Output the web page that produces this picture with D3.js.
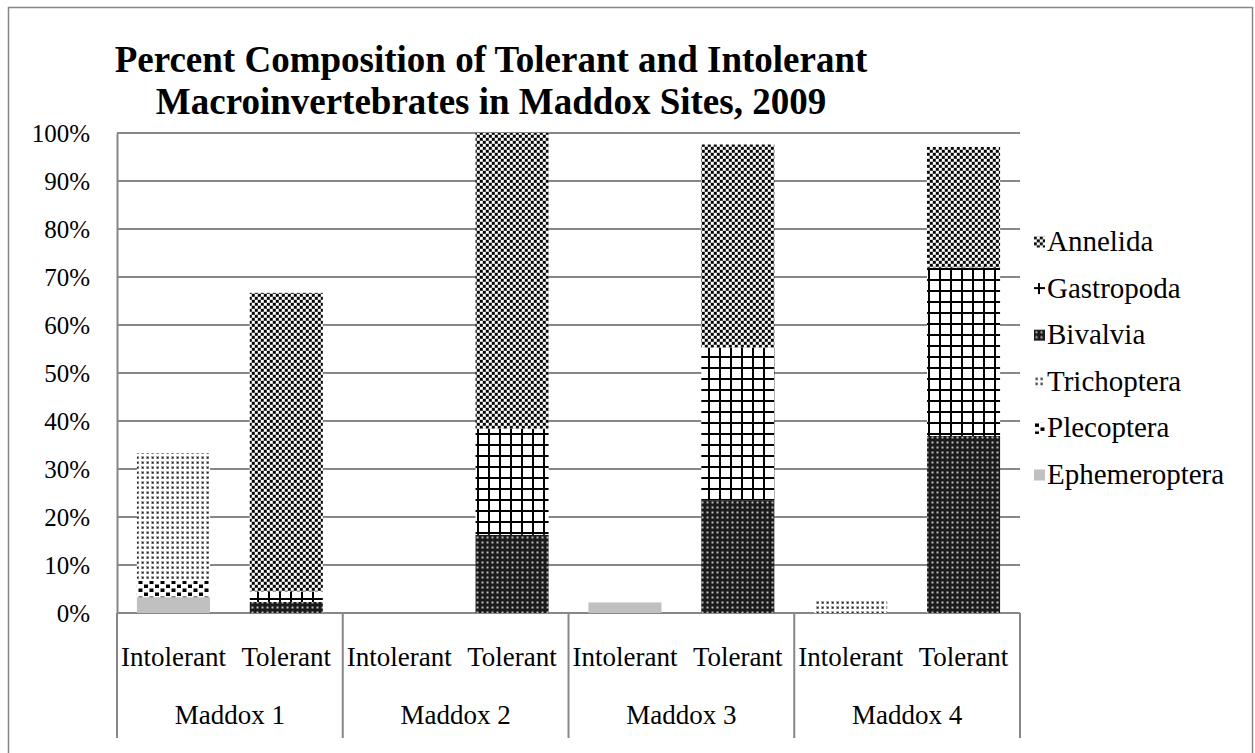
<!DOCTYPE html>
<html>
<head>
<meta charset="utf-8">
<script src="https://cdn.jsdelivr.net/npm/d3@7"></script>
<style>
  html, body { margin: 0; padding: 0; background: #fff; }
  svg text { font-family: "Liberation Serif", "Times New Roman", serif; fill: #000; }
</style>
</head>
<body>
<svg id="chart" width="1255" height="753"></svg>
<script>
(function (d3) {
  'use strict';

  var sites = ['Maddox 1', 'Maddox 2', 'Maddox 3', 'Maddox 4'];
  var groups = ['Intolerant', 'Tolerant'];
  var taxa = ['Ephemeroptera', 'Plecoptera', 'Trichoptera', 'Bivalvia', 'Gastropoda', 'Annelida'];
  // values per site: [Intolerant, Tolerant], in percent
  var ephemeroptera = [3.3, 0, 0, 0, 2.2, 0, 0, 0];
  var plecoptera = [3.4, 0, 0, 0, 0, 0, 0, 0];
  var trichoptera = [26.6, 0, 0, 0, 0, 0, 2.9, 0];
  var bivalvia = [0, 2.3, 0, 16.3, 0, 23.5, 0, 36.9];
  var gastropoda = [0, 2.2, 0, 22.1, 0, 31.8, 0, 35.1];
  var annelida = [0, 62.2, 0, 61.6, 0, 42.3, 0, 25.1];
  var yTicks = [0, 10, 20, 30, 40, 50, 60, 70, 80, 90, 100];

  var series = {
    Ephemeroptera: ephemeroptera,
    Plecoptera: plecoptera,
    Trichoptera: trichoptera,
    Bivalvia: bivalvia,
    Gastropoda: gastropoda,
    Annelida: annelida
  };

  var rows = [];
  sites.forEach(function (s, i) {
    groups.forEach(function (g, j) {
      var row = { site: s, group: g };
      taxa.forEach(function (t) { row[t] = series[t][i * 2 + j]; });
      rows.push(row);
    });
  });

  var svg = d3.select('#chart'),
    left = 117, right = 1020, top = 133, bottom = 613, grid = '#878787';

  var x0 = d3.scaleBand().domain(sites).range([left, right]).padding(0);
  var x1 = d3.scaleBand().domain(groups).range([0, x0.bandwidth()])
    .paddingInner(0.353).paddingOuter(0.1765);
  var y = d3.scaleLinear().domain([0, 100]).range([bottom, top]);

  // fill patterns (ox, oy shift the tile origin)
  var defs = svg.append('defs');
  function pattern(id, ox, oy, key) {
    var w = { Annelida: 6, Gastropoda: 11, Bivalvia: 5, Trichoptera: 5, Plecoptera: 11 }[key],
      h = { Annelida: 6, Gastropoda: 11, Bivalvia: 5, Trichoptera: 5, Plecoptera: 8 }[key],
      bg = { Annelida: '#8a8a8a', Gastropoda: '#fff', Bivalvia: '#1a1a1a', Trichoptera: '#fff', Plecoptera: '#fff' }[key];
    var p = defs.append('pattern').attr('id', id).attr('x', ox).attr('y', oy)
      .attr('patternUnits', 'userSpaceOnUse').attr('width', w).attr('height', h);
    p.append('rect').attr('width', w).attr('height', h).attr('fill', bg);
    function r(x, yy, ww, hh, c) {
      p.append('rect').attr('x', x).attr('y', yy).attr('width', ww).attr('height', hh).attr('fill', c);
    }
    if (key === 'Annelida') {
      r(0, 0, 2.6, 2.6, '#000'); r(3, 3, 2.6, 2.6, '#000');
      r(3, 0, 2.6, 2.6, '#fff'); r(0, 3, 2.6, 2.6, '#fff');
    } else if (key === 'Gastropoda') {
      r(4, 0, 2, 11, '#000'); r(0, 4, 11, 2, '#000');
    } else if (key === 'Bivalvia') {
      r(1.5, 1.5, 2, 2, '#bbb');
    } else if (key === 'Trichoptera') {
      r(1, 1, 3, 3, '#a8a8a8'); r(2, 2, 1.5, 1.5, '#222');
    } else if (key === 'Plecoptera') {
      r(1, 0.5, 4, 3.5, '#000'); r(6.5, 4.5, 4, 3.5, '#000');
    }
  }
  taxa.forEach(function (t) {
    if (t !== 'Ephemeroptera') {
      pattern('p-' + t, 0, 0, t);
      pattern('l-' + t, 0, -5.5, t);
    }
  });

  function fill(key, id) {
    return key === 'Ephemeroptera' ? '#c0c0c0' : 'url(#' + id + ')';
  }

  // outer border
  svg.append('rect').attr('x', 8.5).attr('y', 7.5).attr('width', 1244).attr('height', 760)
    .attr('fill', 'none').attr('stroke', grid).attr('stroke-width', 1.5);

  // title
  var title = svg.append('text').attr('text-anchor', 'middle')
    .style('font-size', '37px').style('font-weight', 'bold');
  title.append('tspan').attr('x', 491).attr('y', 72).text('Percent Composition of Tolerant and Intolerant');
  title.append('tspan').attr('x', 491).attr('y', 114).text('Macroinvertebrates in Maddox Sites, 2009');

  // gridlines
  svg.append('g').selectAll('line').data(yTicks).enter().append('line')
    .attr('x1', left).attr('x2', right)
    .attr('y1', function (d) { return y(d); }).attr('y2', function (d) { return y(d); })
    .attr('stroke', grid).attr('stroke-width', 2);

  // y axis
  var yAxis = svg.append('g').attr('transform', 'translate(' + left + ',0)')
    .call(d3.axisLeft(y).tickValues(yTicks).tickSize(0).tickPadding(27)
      .tickFormat(function (d) { return d + '%'; }));
  yAxis.select('.domain').attr('stroke', grid).attr('stroke-width', 2);
  yAxis.selectAll('text').style('font-size', '25px')
    .style('font-family', '"Liberation Serif", serif').attr('fill', '#000');

  // stacked bars
  var stack = d3.stack().keys(taxa)(rows);
  svg.append('g').selectAll('g').data(stack).enter().append('g')
    .attr('fill', function (d) { return fill(d.key, 'p-' + d.key); })
    .selectAll('rect').data(function (d) { return d; }).enter().append('rect')
    .attr('x', function (d) { return x0(d.data.site) + x1(d.data.group); })
    .attr('width', x1.bandwidth())
    .attr('y', function (d) { return y(d[1]); })
    .attr('height', function (d) { return y(d[0]) - y(d[1]); });

  // category axis: dividers and labels
  var cat = svg.append('g');
  cat.selectAll('line').data(sites.concat(['end'])).enter().append('line')
    .attr('x1', function (d, i) { return i < sites.length ? x0(d) : right; })
    .attr('x2', function (d, i) { return i < sites.length ? x0(d) : right; })
    .attr('y1', bottom).attr('y2', 738)
    .attr('stroke', grid).attr('stroke-width', 2);

  sites.forEach(function (s) {
    cat.selectAll(null).data(groups).enter().append('text')
      .attr('x', function (g) { return x0(s) + x1(g) + x1.bandwidth() / 2; })
      .attr('y', 666).attr('text-anchor', 'middle').style('font-size', '27px')
      .text(function (g) { return g; });
  });
  cat.selectAll('text.site').data(sites).enter().append('text').attr('class', 'site')
    .attr('x', function (d) { return x0(d) + x0.bandwidth() / 2; })
    .attr('y', 724).attr('text-anchor', 'middle').style('font-size', '27px')
    .text(function (d) { return d; });

  // legend
  var legend = svg.append('g').selectAll('g').data(taxa.slice().reverse()).enter().append('g')
    .attr('transform', function (d, i) { return 'translate(1034,' + (242 + i * 46.6) + ')'; });
  legend.append('rect').attr('x', 0).attr('y', -5.5).attr('width', 11).attr('height', 11)
    .attr('fill', function (d) { return fill(d, 'l-' + d); });
  legend.append('text').attr('x', 13).attr('y', 9).style('font-size', '29px')
    .text(function (d) { return d; });
})(d3);
</script>
</body>
</html>
